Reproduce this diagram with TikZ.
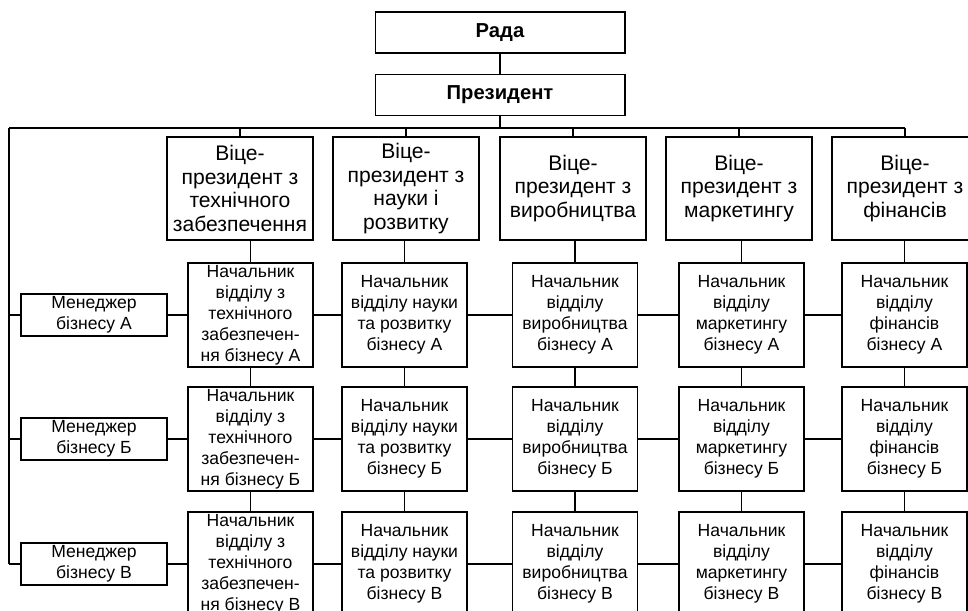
\documentclass[tikz,border=0pt]{standalone}
\usepackage{fontspec}
\setmainfont{Liberation Sans}

\tikzstyle{top} = [draw, minimum width=5cm, minimum height=0.82cm, inner sep=1pt, font=\fontsize{11.5}{13}\selectfont\bfseries]
\tikzstyle{vice} = [draw, minimum width=2.92cm, minimum height=2.06cm, align=center, inner sep=1pt, font=\fontsize{12}{13.6}\selectfont]
\tikzstyle{post} = [draw, minimum width=2.5cm, minimum height=2.08cm, align=center, inner xsep=1pt, inner ysep=0pt, font=\fontsize{10}{11.9}\selectfont]
\tikzstyle{mgr} = [draw, minimum width=2.92cm, minimum height=0.84cm, align=center, inner sep=1pt, font=\fontsize{10}{11.9}\selectfont]

\begin{document}
\begin{tikzpicture}[x=0.02cm, y=-0.02cm, line width=0.6pt]
\useasboundingbox (0,0) rectangle (968,611);
\clip (0,0) rectangle (968,611);

% top
\node[top] (rada) at (500,32.5) {Рада};
\node[top] (pres) at (500,95) {Президент};

% vice-presidents
\node[vice] (vp1) at (240,188.5) {Віце-\\президент з\\технічного\\забезпечення};
\node[vice] (vp2) at (406,188.5) {Віце-\\президент з\\науки і\\розвитку};
\node[vice] (vp3) at (573,188.5) {Віце-\\президент з\\виробництва};
\node[vice] (vp4) at (739,188.5) {Віце-\\президент з\\маркетингу};
\node[vice] (vp5) at (905,188.5) {Віце-\\президент з\\фінансів};

% business A
\node[mgr] (mgrA) at (94,315) {Менеджер\\бізнесу А};
\node[post] (a1) at (250.5,315) {Начальник\\відділу з\\технічного\\забезпечен-\\ня бізнесу А};
\node[post] (a2) at (404.5,315) {Начальник\\відділу науки\\та розвитку\\бізнесу А};
\node[post] (a3) at (575,315) {Начальник\\відділу\\виробництва\\бізнесу А};
\node[post] (a4) at (741.5,315) {Начальник\\відділу\\маркетингу\\бізнесу А};
\node[post] (a5) at (904.5,315) {Начальник\\відділу\\фінансів\\бізнесу А};

% business B
\node[mgr] (mgrB) at (94,439) {Менеджер\\бізнесу Б};
\node[post] (b1) at (250.5,439) {Начальник\\відділу з\\технічного\\забезпечен-\\ня бізнесу Б};
\node[post] (b2) at (404.5,439) {Начальник\\відділу науки\\та розвитку\\бізнесу Б};
\node[post] (b3) at (575,439) {Начальник\\відділу\\виробництва\\бізнесу Б};
\node[post] (b4) at (741.5,439) {Начальник\\відділу\\маркетингу\\бізнесу Б};
\node[post] (b5) at (904.5,439) {Начальник\\відділу\\фінансів\\бізнесу Б};

% business V
\node[mgr] (mgrC) at (94,564) {Менеджер\\бізнесу В};
\node[post] (c1) at (250.5,564) {Начальник\\відділу з\\технічного\\забезпечен-\\ня бізнесу В};
\node[post] (c2) at (404.5,564) {Начальник\\відділу науки\\та розвитку\\бізнесу В};
\node[post] (c3) at (575,564) {Начальник\\відділу\\виробництва\\бізнесу В};
\node[post] (c4) at (741.5,564) {Начальник\\відділу\\маркетингу\\бізнесу В};
\node[post] (c5) at (904.5,564) {Начальник\\відділу\\фінансів\\бізнесу В};

% connectors
\coordinate (corner) at (9,128);
\draw (rada) -- (pres);
\draw (pres.south) -- (pres.south |- corner);
\draw (corner) -- (corner -| vp5.north);
\draw (vp1.north) -- (vp1.north |- corner);
\draw (vp2.north) -- (vp2.north |- corner);
\draw (vp3.north) -- (vp3.north |- corner);
\draw (vp4.north) -- (vp4.north |- corner);
\draw (vp5.north) -- (vp5.north |- corner);
\draw (corner) -- (corner |- mgrC);

\draw (corner |- mgrA) -- (mgrA) -- (a1) -- (a2) -- (a3) -- (a4) -- (a5);
\draw (corner |- mgrB) -- (mgrB) -- (b1) -- (b2) -- (b3) -- (b4) -- (b5);
\draw (corner |- mgrC) -- (mgrC) -- (c1) -- (c2) -- (c3) -- (c4) -- (c5);

\draw (a1.north |- vp1.south) -- (a1) -- (b1) -- (c1);
\draw (a2.north |- vp2.south) -- (a2) -- (b2) -- (c2);
\draw (a3.north |- vp3.south) -- (a3) -- (b3) -- (c3);
\draw (a4.north |- vp4.south) -- (a4) -- (b4) -- (c4);
\draw (a5.north |- vp5.south) -- (a5) -- (b5) -- (c5);
\end{tikzpicture}
\end{document}
